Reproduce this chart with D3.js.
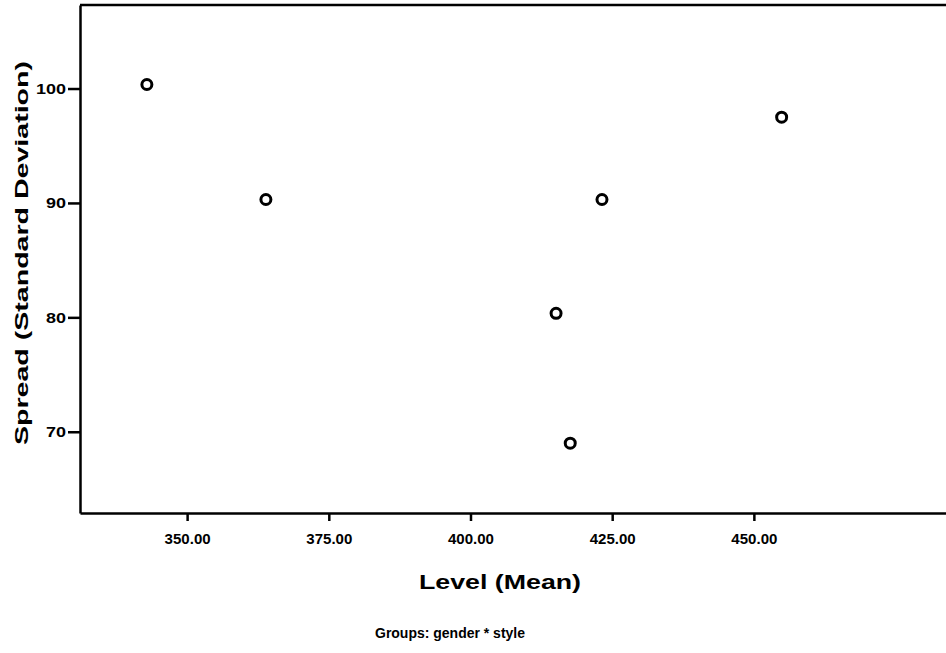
<!DOCTYPE html>
<html>
<head>
    <title>Spread vs Level</title>
    <script src="https://d3js.org/d3.v7.min.js"></script>
    <style>
        html, body {
            margin: 0;
            background: #fff;
            overflow: hidden;
        }
        text {
            font-family: "Liberation Sans", Arial, sans-serif;
            fill: #000;
        }
    </style>
</head>
<body>
    <div id="chart"></div>

    <script>
        // Level (mean) and spread (sd) for each gender * style group
        const levels  = [342.9, 363.9, 415.1, 417.6, 423.2, 454.9];
        const spreads = [100.35, 90.3, 80.35, 69.0, 90.3, 97.5];

        const xTicks = [350, 375, 400, 425, 450];
        const yTicks = [70, 80, 90, 100];

        const W = 946, H = 653;
        const margin = {top: 5, right: 0, bottom: 140, left: 80};
        const width = W - margin.left - margin.right;
        const height = H - margin.top - margin.bottom;

        const svg = d3.select("#chart")
            .append("svg")
            .attr("width", W)
            .attr("height", H);

        const g = svg.append("g")
            .attr("transform", `translate(${margin.left},${margin.top})`);

        // scales (the plot runs off the right edge of the picture)
        const x = d3.scaleLinear().domain([331.1, 483.9]).range([0, width]);
        const y = d3.scaleLinear().domain([62.9, 107.3]).range([height, 0]);

        // frame: top line
        g.append("line")
            .attr("x1", 0).attr("x2", width + 5)
            .attr("y1", 0).attr("y2", 0)
            .attr("stroke", "#000").attr("stroke-width", 2.5);

        // x axis
        const xAxis = g.append("g")
            .attr("transform", `translate(0,${height})`)
            .call(d3.axisBottom(x).tickValues(xTicks).tickSize(8).tickSizeOuter(0)
                .tickFormat(d3.format(".2f")));

        // y axis
        const yAxis = g.append("g")
            .call(d3.axisLeft(y).tickValues(yTicks).tickSize(12).tickSizeOuter(0)
                .tickFormat(d3.format("d")));

        [xAxis, yAxis].forEach(a => {
            a.select(".domain").attr("stroke", "#000").attr("stroke-width", 2.5);
            a.selectAll(".tick line").attr("stroke", "#000").attr("stroke-width", 2.5);
            a.selectAll("text")
                .style("font-weight", "bold")
                .style("font-size", "15px")
                .attr("fill", "#000");
        });
        xAxis.selectAll("text")
            .attr("dy", "1.35em")
            .attr("textLength", 46)
            .attr("lengthAdjust", "spacingAndGlyphs");
        yAxis.selectAll("text")
            .attr("x", -14)
            .attr("textLength", d => d >= 100 ? 30 : 20)
            .attr("lengthAdjust", "spacingAndGlyphs");

        // points
        g.selectAll("circle.pt")
            .data(levels.map((v, i) => [v, spreads[i]]))
            .join("circle")
            .attr("class", "pt")
            .attr("cx", d => x(d[0]))
            .attr("cy", d => y(d[1]))
            .attr("r", 5)
            .attr("fill", "none")
            .attr("stroke", "#000")
            .attr("stroke-width", 3);

        // axis titles
        svg.append("text")
            .attr("x", 500)
            .attr("y", 589)
            .attr("text-anchor", "middle")
            .attr("textLength", 162)
            .attr("lengthAdjust", "spacingAndGlyphs")
            .style("font-weight", "bold")
            .style("font-size", "21px")
            .text("Level (Mean)");

        svg.append("text")
            .attr("transform", "translate(28,253) rotate(-90)")
            .attr("text-anchor", "middle")
            .attr("textLength", 384)
            .attr("lengthAdjust", "spacingAndGlyphs")
            .style("font-weight", "bold")
            .style("font-size", "19px")
            .text("Spread (Standard Deviation)");

        svg.append("text")
            .attr("x", 450)
            .attr("y", 638)
            .attr("text-anchor", "middle")
            .attr("textLength", 150)
            .attr("lengthAdjust", "spacingAndGlyphs")
            .style("font-weight", "bold")
            .style("font-size", "15px")
            .text("Groups: gender * style");
    </script>
</body>
</html>
